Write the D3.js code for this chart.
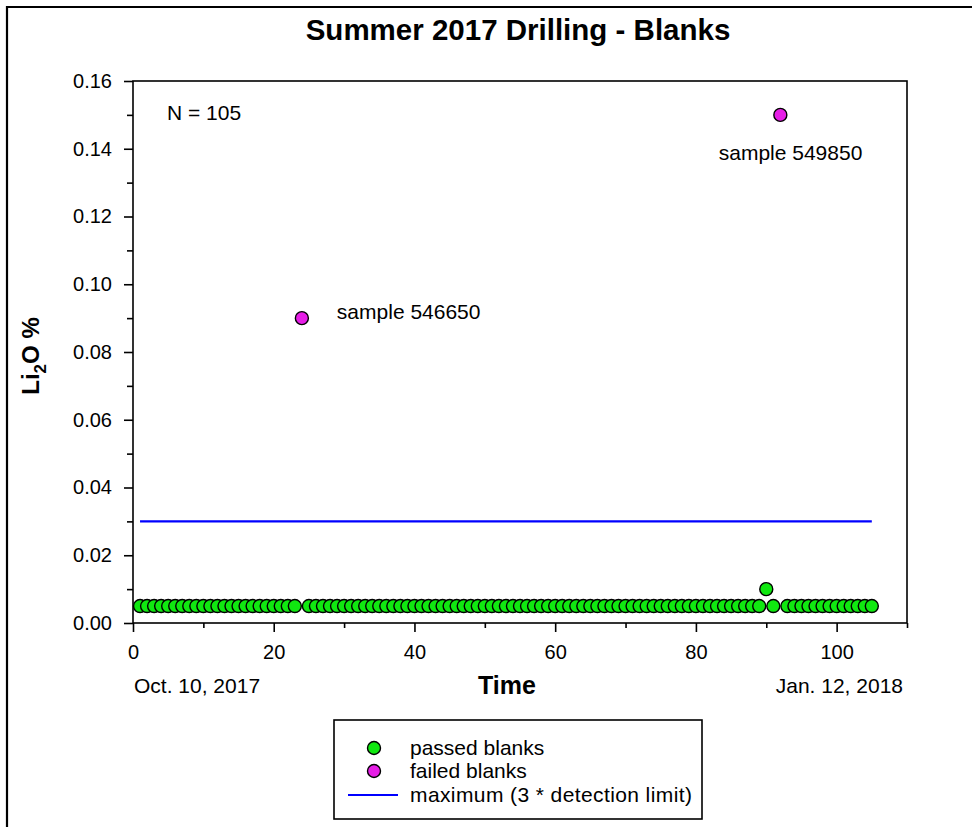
<!DOCTYPE html>
<html>
<head>
<meta charset="utf-8">
<script src="https://cdn.jsdelivr.net/npm/d3@7"></script>
<style>
  html, body { margin: 0; padding: 0; background: #fff; }
  svg { display: block; font-family: "Liberation Sans", Arial, sans-serif; }
</style>
</head>
<body>
<svg id="chart" width="972" height="827"></svg>
<script>
// Sample sequence numbers (1..105) and Li2O results for blanks
const sampleIndex = d3.range(1, 106);
const failedIndex = [24, 92];
const failedValues = [0.09, 0.15];
const failedLabels = ["sample 546650", "sample 549850"];
const elevatedIndex = [90];
const elevatedValues = [0.01];
const baseValue = 0.005;
const maxLimit = 0.03;
const maxLimitRange = [1, 105];
const xTicks = [0, 20, 40, 60, 80, 100];
const yTicks = [0, 0.02, 0.04, 0.06, 0.08, 0.10, 0.12, 0.14, 0.16];
const legendLabels = ["passed blanks", "failed blanks", "maximum (3 * detection limit)"];

// Passed blanks: every sample that is not a failure
const passed = sampleIndex
  .filter(i => !failedIndex.includes(i))
  .map(i => {
    const k = elevatedIndex.indexOf(i);
    return { x: i, y: k >= 0 ? elevatedValues[k] : baseValue };
  });
const failed = failedIndex.map((x, i) => ({ x, y: failedValues[i], label: failedLabels[i] }));

const svg = d3.select("#chart");
const L = 133, R = 907, T = 81, B = 623;
const x = d3.scaleLinear().domain([0, 110]).range([L, R]);
const y = d3.scaleLinear().domain([0, 0.16]).range([B, T]);

const passColor = "#10e810";
const failColor = "#e61ee6";
const textSize = 21;
const tickSize = 20;

// outer frame (left and top edges)
svg.append("path")
  .attr("d", `M7,827 V7 H972`)
  .attr("fill", "none").attr("stroke", "#000").attr("stroke-width", 2.2);

// title
svg.append("text")
  .attr("x", 518).attr("y", 40)
  .attr("text-anchor", "middle")
  .attr("font-weight", "bold").attr("font-size", 29.5)
  .text("Summer 2017 Drilling - Blanks");

// plot frame
svg.append("rect")
  .attr("x", L).attr("y", T).attr("width", R - L).attr("height", B - T)
  .attr("fill", "none").attr("stroke", "#000").attr("stroke-width", 1.6);

// x axis: majors with labels, minors every 10
const xAxis = d3.axisBottom(x).tickValues(xTicks).tickFormat(d3.format("d"))
  .tickSize(9).tickPadding(13);
const gx = svg.append("g").attr("transform", `translate(0,${B})`).call(xAxis);
gx.select(".domain").remove();
gx.selectAll("line").attr("stroke-width", 1.6);
gx.selectAll("text").attr("font-size", tickSize).attr("fill", "#000")
  .attr("font-family", "Liberation Sans, Arial, sans-serif");
const gxm = svg.append("g").attr("transform", `translate(0,${B})`)
  .call(d3.axisBottom(x).tickValues(d3.range(10, 111, 20)).tickSize(5).tickFormat(""));
gxm.select(".domain").remove();
gxm.selectAll("line").attr("stroke-width", 1.6);

// y axis
const yAxis = d3.axisLeft(y).tickValues(yTicks).tickFormat(d3.format(".2f"))
  .tickSize(9).tickPadding(12);
const gy = svg.append("g").attr("transform", `translate(${L},0)`).call(yAxis);
gy.select(".domain").remove();
gy.selectAll("line").attr("stroke-width", 1.6);
gy.selectAll("text").attr("font-size", tickSize).attr("fill", "#000")
  .attr("font-family", "Liberation Sans, Arial, sans-serif");
const gym = svg.append("g").attr("transform", `translate(${L},0)`)
  .call(d3.axisLeft(y).tickValues(d3.range(0.01, 0.16, 0.02)).tickSize(6).tickFormat(""));
gym.select(".domain").remove();
gym.selectAll("line").attr("stroke-width", 1.6);

// axis titles
svg.append("text")
  .attr("x", 507).attr("y", 694)
  .attr("text-anchor", "middle")
  .attr("font-weight", "bold").attr("font-size", 25)
  .text("Time");
svg.append("text").attr("x", 134).attr("y", 693).attr("font-size", textSize).text("Oct. 10, 2017");
svg.append("text").attr("x", 903).attr("y", 693).attr("text-anchor", "end")
  .attr("font-size", textSize).text("Jan. 12, 2018");

const yl = svg.append("text")
  .attr("transform", "translate(39,356) rotate(-90)")
  .attr("text-anchor", "middle")
  .attr("font-weight", "bold").attr("font-size", 24);
yl.append("tspan").text("Li");
yl.append("tspan").attr("font-size", 17).attr("dy", 7).text("2");
yl.append("tspan").attr("dy", -7).text("O %");

// N annotation
svg.append("text").attr("x", 167).attr("y", 120).attr("font-size", textSize)
  .text(`N = ${sampleIndex.length}`);

// maximum line
svg.append("line")
  .attr("x1", x(maxLimitRange[0])).attr("x2", x(maxLimitRange[1]))
  .attr("y1", y(maxLimit)).attr("y2", y(maxLimit))
  .attr("stroke", "#0000ff").attr("stroke-width", 2.2);

// points
svg.append("g").selectAll("circle").data(passed).join("circle")
  .attr("cx", d => x(d.x)).attr("cy", d => y(d.y)).attr("r", 6.5)
  .attr("fill", passColor).attr("stroke", "#000").attr("stroke-width", 1.4);
svg.append("g").selectAll("circle").data(failed).join("circle")
  .attr("cx", d => x(d.x)).attr("cy", d => y(d.y)).attr("r", 6.5)
  .attr("fill", failColor).attr("stroke", "#000").attr("stroke-width", 1.4);

// failed sample labels
const labelPos = [{ dx: 35, dy: 1, anchor: "start" }, { dx: 82, dy: 45, anchor: "end" }];
svg.append("g").selectAll("text").data(failed).join("text")
  .attr("x", (d, i) => x(d.x) + labelPos[i].dx)
  .attr("y", (d, i) => y(d.y) + labelPos[i].dy)
  .attr("text-anchor", (d, i) => labelPos[i].anchor)
  .attr("font-size", textSize)
  .text(d => d.label);

// legend
const lg = svg.append("g");
lg.append("rect").attr("x", 334).attr("y", 720).attr("width", 368).attr("height", 99)
  .attr("fill", "#fff").attr("stroke", "#000").attr("stroke-width", 1.6);
const rowsY = [748, 771, 795];
lg.append("circle").attr("cx", 374).attr("cy", rowsY[0]).attr("r", 6.5)
  .attr("fill", passColor).attr("stroke", "#000").attr("stroke-width", 1.4);
lg.append("circle").attr("cx", 374).attr("cy", rowsY[1]).attr("r", 6.5)
  .attr("fill", failColor).attr("stroke", "#000").attr("stroke-width", 1.4);
lg.append("line").attr("x1", 348).attr("x2", 398).attr("y1", rowsY[2]).attr("y2", rowsY[2])
  .attr("stroke", "#0000ff").attr("stroke-width", 2.2);
lg.selectAll("text.item").data(legendLabels).join("text").attr("class", "item")
  .attr("x", 410).attr("y", (d, i) => rowsY[i] + 7)
  .attr("font-size", textSize)
  .attr("letter-spacing", (d, i) => i === 2 ? 0.4 : 0)
  .text(d => d);
</script>
</body>
</html>
